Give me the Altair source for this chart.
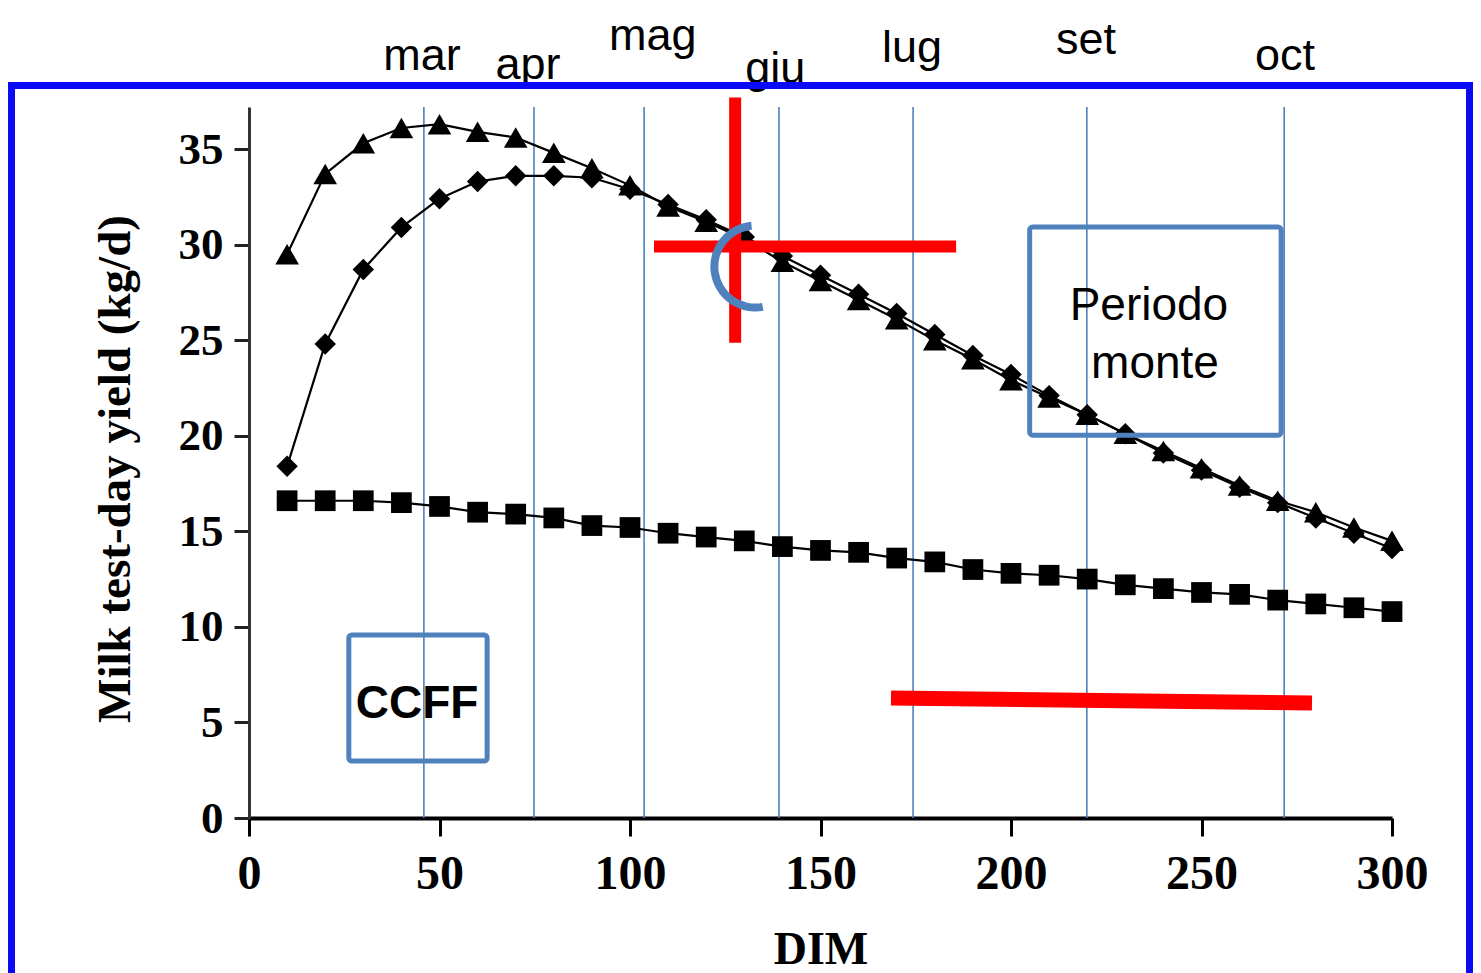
import altair as alt
import pandas as pd

# ---------------- data ----------------
dim = list(range(10, 301, 10))
triangles = [29.5, 33.7, 35.3, 36.1, 36.3, 35.9, 35.6, 34.8, 34.0, 33.1,
             32.0, 31.2, 30.3, 29.1, 28.1, 27.1, 26.1, 25.0, 24.0, 22.9,
             22.0, 21.1, 20.1, 19.2, 18.3, 17.4, 16.6, 16.0, 15.2, 14.5]
diamonds = [18.4, 24.8, 28.7, 30.9, 32.4, 33.3, 33.6, 33.6, 33.5, 32.9,
            32.1, 31.3, 30.4, 29.4, 28.4, 27.4, 26.4, 25.3, 24.2, 23.2,
            22.1, 21.1, 20.1, 19.1, 18.2, 17.3, 16.5, 15.7, 14.9, 14.1]
squares = [16.6, 16.6, 16.6, 16.5, 16.3, 16.0, 15.9, 15.7, 15.3, 15.2,
           14.9, 14.7, 14.5, 14.2, 14.0, 13.9, 13.6, 13.4, 13.0, 12.8,
           12.7, 12.5, 12.2, 12.0, 11.8, 11.7, 11.4, 11.2, 11.0, 10.8]

month_names = ["mar", "apr", "mag", "giu", "lug", "set", "oct"]
month_bounds = [45.9, 74.8, 103.7, 139.1, 174.3, 219.9, 271.7]
month_label_x = [45.4, 73.2, 106.0, 138.1, 174.0, 219.7, 271.9]
month_label_y = [39.16, 38.64, 40.18, 38.48, 39.58, 39.95, 39.16]

x_ticks = [0, 50, 100, 150, 200, 250, 300]
y_ticks = [0, 5, 10, 15, 20, 25, 30, 35]
y_top = 37.2

# annotation geometry (data units)
red_segments = {"x": [127.6, 106.3, 168.5], "x2": [127.6, 185.6, 279.0],
                "y": [37.7, 29.9, 6.28], "y2": [24.87, 29.9, 6.02],
                "w": [12, 12, 15]}
boxes = {"x": [204.9, 26.2], "x2": [270.9, 62.5], "y": [30.92, 9.58], "y2": [20.03, 2.98]}
box_texts = {"t": ["Periodo", "monte"], "x": [236.2, 237.8], "y": [26.07, 23.04]}
ccff_text = {"t": ["CCFF"], "x": [44.1], "y": [5.24]}
arc_center = {"cx": [132.9], "cy": [28.85]}

# ---------------- chart ----------------
W, H = 1143, 711
xs = alt.Scale(domain=[0, 300], nice=False)
ys = alt.Scale(domain=[0, y_top], nice=False, zero=True)
BLUE = "#4F81BD"
SERIF = "Liberation Serif"
SANS = "Liberation Sans"

x_axis = alt.Axis(values=x_ticks, title="DIM", grid=False, labelFont=SERIF,
                  labelFontWeight="bold", labelFontSize=48, labelColor="black",
                  labelPadding=14, tickSize=18, tickWidth=3, tickColor="black",
                  domainColor="black", domainWidth=4, labelFlush=False,
                  titleFont=SERIF, titleFontWeight="bold", titleFontSize=46,
                  titleColor="black", titleY=145, titleBaseline="alphabetic")
y_axis = alt.Axis(values=y_ticks, title="Milk test-day yield (kg/d)", grid=False,
                  labelFont=SERIF, labelFontWeight="bold", labelFontSize=45,
                  labelColor="black", labelPadding=11, tickSize=15, tickWidth=3,
                  tickColor="#222222", domainColor="#333333", domainWidth=3,
                  labelFlush=False, titleFont=SERIF, titleFontWeight="bold",
                  titleFontSize=47, titleColor="black", titleX=-134, titleY=H / 2 + 6,
                  titleBaseline="middle", titleAlign="center", titleAngle=-90)


def X(field):
    return alt.X(field, scale=xs, axis=x_axis)


def Y(field):
    return alt.Y(field, scale=ys, axis=y_axis)


series_df = pd.DataFrame({"DIM": dim, "tri": triangles, "dia": diamonds, "sq": squares})

months_df = pd.DataFrame({"x": month_bounds, "y0": [0] * 7, "y1": [y_top] * 7})
vlines = alt.Chart(months_df).mark_rule(color=BLUE, strokeWidth=1.6).encode(
    x=X("x:Q"), y=Y("y0:Q"), y2="y1:Q",
)


def series(col, shape, size):
    base = alt.Chart(series_df).encode(x=X("DIM:Q"), y=Y(f"{col}:Q"))
    line = base.mark_line(color="black", strokeWidth=2.2)
    pts = base.mark_point(shape=shape, size=size, filled=True, color="black", opacity=1)
    return line + pts


tri_layer = series("tri", "triangle-up", 560)
sq_layer = series("sq", "square", 430)
dia_layer = series("dia", "diamond", 460)

labels_df = pd.DataFrame({"t": month_names, "x": month_label_x, "y": month_label_y})
month_labels = alt.Chart(labels_df).mark_text(
    font=SANS, fontSize=45, color="black", baseline="alphabetic", align="center"
).encode(x=X("x:Q"), y=Y("y:Q"), text="t:N")

red_df = pd.DataFrame(red_segments)
red = alt.Chart(red_df).mark_rule(color="#FF0000", strokeCap="butt").encode(
    x=X("x:Q"), x2="x2:Q", y=Y("y:Q"), y2="y2:Q",
    strokeWidth=alt.StrokeWidth("w:Q", scale=None, legend=None),
)

box_df = pd.DataFrame(boxes)
box_layer = alt.Chart(box_df).mark_rect(
    filled=False, stroke=BLUE, strokeWidth=5, cornerRadius=3
).encode(x=X("x:Q"), x2="x2:Q", y=Y("y:Q"), y2="y2:Q")

bt_df = pd.DataFrame(box_texts)
box_text = alt.Chart(bt_df).mark_text(
    font=SANS, fontSize=46, color="black", baseline="alphabetic", align="center"
).encode(x=X("x:Q"), y=Y("y:Q"), text="t:N")

cc_df = pd.DataFrame(ccff_text)
cc_text = alt.Chart(cc_df).mark_text(
    font=SANS, fontSize=46, fontWeight="bold", color="black", baseline="alphabetic", align="center"
).encode(x=X("x:Q"), y=Y("y:Q"), text="t:N")

arc_df = pd.DataFrame(arc_center)
arc = alt.Chart(arc_df).mark_arc(
    theta=2.96, theta2=6.19, innerRadius=37, outerRadius=45, color=BLUE
).encode(x=X("cx:Q"), y=Y("cy:Q"))

frame = alt.Chart(pd.DataFrame({"k": [0]})).mark_rect(
    filled=False, stroke="#0A0AF5", strokeWidth=7
).encode(x=alt.value(-237.5), x2=alt.value(1220.5), y=alt.value(-21.5), y2=alt.value(900))

chart = alt.layer(
    vlines, tri_layer, dia_layer, sq_layer, month_labels, box_layer, box_text,
    cc_text, red, arc, frame
).properties(
    width=W, height=H,
    autosize=alt.AutoSizeParams(type="none"),
    padding={"left": 241, "top": 99, "right": 81, "bottom": 157},
    background="white",
).configure_view(stroke=None)

chart.save("out.html", embed_options={"renderer": "svg", "actions": False})
